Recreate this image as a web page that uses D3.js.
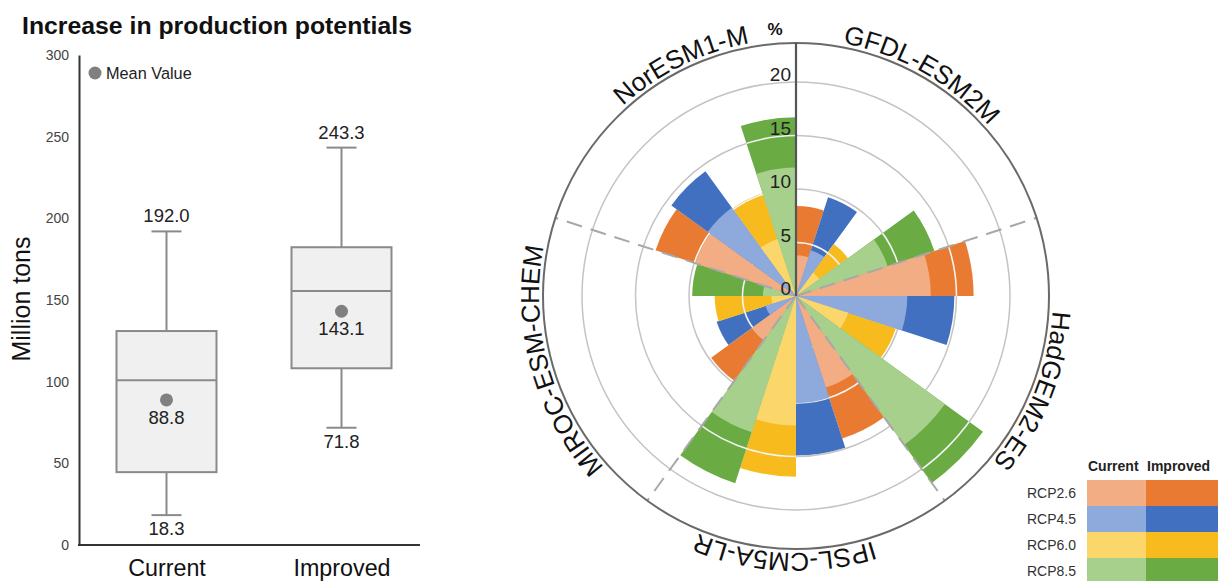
<!DOCTYPE html>
<html>
<head>
<meta charset="utf-8">
<script src="https://cdn.jsdelivr.net/npm/d3@7"></script>
<style>
  body { margin: 0; background: #fff; }
  svg { display: block; font-family: "Liberation Sans", Arial, Helvetica, sans-serif; }
</style>
</head>
<body>
<svg id="chart" width="1218" height="581"></svg>
<script>
// ---------- Box plot: increase in production potentials (million tons) ----------
const boxCategories = ["Current", "Improved"];
const boxMin    = [18.3, 71.8];
const boxQ1     = [44.6, 108.2];
const boxMedian = [100.8, 155.5];
const boxQ3     = [131.0, 182.3];
const boxMax    = [192.0, 243.3];
const boxMean   = [88.8, 143.1];
const boxTicks  = [0, 50, 100, 150, 200, 250, 300];

// ---------- Polar bars: % increase by climate model and scenario ----------
const models    = ["GFDL-ESM2M", "HadGEM2-ES", "IPSL-CM5A-LR", "MIROC-ESM-CHEM", "NorESM1-M"];
const scenarios = ["RCP2.6", "RCP4.5", "RCP6.0", "RCP8.5"];
// one row per model, one column per scenario
const currentPct = [
  [3.8, 4.5, 2.7, 9.0],
  [12.6, 10.4, 5.1, 17.2],
  [9.0, 10.0, 12.1, 13.4],
  [5.1, 3.0, 2.3, 3.1],
  [9.9, 10.2, 5.6, 12.0]
];
const improvedPct = [
  [8.4, 9.7, 6.0, 13.6],
  [16.6, 14.8, 9.8, 21.6],
  [14.0, 14.9, 16.9, 18.4],
  [9.8, 7.8, 7.6, 9.7],
  [13.8, 14.4, 10.1, 16.7]
];
const radialTicks = [0, 5, 10, 15, 20];
const legendColumns = ["Current", "Improved"];

// palette per scenario (light = current, dark = improved)
const currentColors  = ["#F2AD84", "#8EA9DB", "#FBD66A", "#A7D08C"];
const improvedColors = ["#E97A32", "#4270C0", "#F7BB1E", "#6AAB44"];

const svg = d3.select("#chart");
const FONT = '"Liberation Sans", Arial, Helvetica, sans-serif';

// ================= Box plot =================
const y = d3.scaleLinear().domain([0, 300]).range([545, 55]);
const x = d3.scalePoint().domain(boxCategories).range([79, 429]).padding(0.5);
const boxW = 100, capW = 30;
const gray = "#8a8a8a";

const bp = svg.append("g");

bp.append("text")
  .attr("x", 22).attr("y", 34)
  .attr("font-size", 24.8).attr("font-weight", "bold").attr("fill", "#111")
  .text("Increase in production potentials");

const yAxis = d3.axisLeft(y).tickValues(boxTicks).tickSize(0).tickPadding(10).tickFormat(d3.format("d"));
bp.append("g").attr("transform", "translate(79,0)").call(yAxis)
  .call(g => g.select(".domain").attr("stroke", "#333").attr("stroke-width", 2))
  .call(g => g.selectAll("text").attr("font-size", 14).attr("fill", "#444").attr("font-family", FONT));

// horizontal base line
bp.append("line")
  .attr("x1", 78).attr("x2", 420).attr("y1", y(0)).attr("y2", y(0))
  .attr("stroke", "#333").attr("stroke-width", 2);

const xAxis = d3.axisBottom(x).tickSize(0).tickPadding(14);
bp.append("g").attr("transform", `translate(0,${y(0)})`).call(xAxis)
  .call(g => g.select(".domain").remove())
  .call(g => g.selectAll("text").attr("font-size", 23.3).attr("fill", "#111").attr("font-family", FONT));

bp.append("text")
  .attr("transform", "translate(30,299) rotate(-90)")
  .attr("text-anchor", "middle").attr("font-size", 25).attr("fill", "#111")
  .text("Million tons");

const boxes = bp.selectAll("g.box").data(boxCategories).join("g").attr("class", "box");

boxes.append("line") // upper whisker
  .attr("x1", d => x(d)).attr("x2", d => x(d))
  .attr("y1", (d, i) => y(boxMax[i])).attr("y2", (d, i) => y(boxQ3[i]))
  .attr("stroke", gray).attr("stroke-width", 2);
boxes.append("line") // lower whisker
  .attr("x1", d => x(d)).attr("x2", d => x(d))
  .attr("y1", (d, i) => y(boxQ1[i])).attr("y2", (d, i) => y(boxMin[i]))
  .attr("stroke", gray).attr("stroke-width", 2);
boxes.append("line") // max cap
  .attr("x1", d => x(d) - capW / 2).attr("x2", d => x(d) + capW / 2)
  .attr("y1", (d, i) => y(boxMax[i])).attr("y2", (d, i) => y(boxMax[i]))
  .attr("stroke", gray).attr("stroke-width", 2);
boxes.append("line") // min cap
  .attr("x1", d => x(d) - capW / 2).attr("x2", d => x(d) + capW / 2)
  .attr("y1", (d, i) => y(boxMin[i])).attr("y2", (d, i) => y(boxMin[i]))
  .attr("stroke", gray).attr("stroke-width", 2);
boxes.append("rect")
  .attr("x", d => x(d) - boxW / 2).attr("width", boxW)
  .attr("y", (d, i) => y(boxQ3[i])).attr("height", (d, i) => y(boxQ1[i]) - y(boxQ3[i]))
  .attr("fill", "#f0f0f0").attr("stroke", gray).attr("stroke-width", 2);
boxes.append("line") // median
  .attr("x1", d => x(d) - boxW / 2).attr("x2", d => x(d) + boxW / 2)
  .attr("y1", (d, i) => y(boxMedian[i])).attr("y2", (d, i) => y(boxMedian[i]))
  .attr("stroke", gray).attr("stroke-width", 2);
boxes.append("circle")
  .attr("cx", d => x(d)).attr("cy", (d, i) => y(boxMean[i])).attr("r", 6.5)
  .attr("fill", "#808080");

const valueText = (sel, vals, dy) => sel.append("text")
  .attr("x", d => x(d)).attr("y", (d, i) => y(vals[i]) + dy)
  .attr("text-anchor", "middle").attr("font-size", 18.5).attr("fill", "#222")
  .text((d, i) => vals[i].toFixed(1));
valueText(boxes, boxMax, -9);
valueText(boxes, boxMin, 20);
valueText(boxes, boxMean, 24);

// mean legend
bp.append("circle").attr("cx", 95).attr("cy", 73).attr("r", 6.5).attr("fill", "#808080");
bp.append("text").attr("x", 106).attr("y", 78.5)
  .attr("font-size", 16.3).attr("fill", "#222").text("Mean Value");

// ================= Polar bars =================
const cx = 796, cy = 296;
const r = d3.scaleLinear().domain([0, 20]).range([0, 214]);
const outerR = 253, labelR = 257;
const sectorAngle = 2 * Math.PI / models.length;
const wedgeAngle = sectorAngle / scenarios.length;

const cells = [];
models.forEach((m, i) => scenarios.forEach((s, j) => cells.push({
  model: m, scen: s, j,
  cur: currentPct[i][j], imp: improvedPct[i][j],
  a0: i * sectorAngle + j * wedgeAngle,
  a1: i * sectorAngle + (j + 1) * wedgeAngle
})));

const arc = d3.arc().innerRadius(0);
const polar = svg.append("g").attr("transform", `translate(${cx},${cy})`);
const gridTicks = radialTicks.filter(t => t > 0);

// grid rings underneath
polar.append("g").selectAll("circle").data(gridTicks).join("circle")
  .attr("r", d => r(d)).attr("fill", "none")
  .attr("stroke", "#c4c4c4").attr("stroke-width", 1.5);

// improved (outer, dark) wedges
const imprPath = d => arc({ outerRadius: r(d.imp), startAngle: d.a0, endAngle: d.a1 });
polar.append("g").selectAll("path").data(cells).join("path")
  .attr("d", imprPath).attr("fill", d => improvedColors[d.j]);

// rings showing through the dark wedges
const defs = svg.append("defs");
const clip = defs.append("clipPath").attr("id", "darkWedges");
clip.selectAll("path").data(cells).join("path").attr("d", imprPath);
polar.append("g").attr("clip-path", "url(#darkWedges)")
  .selectAll("circle").data(gridTicks).join("circle")
  .attr("r", d => r(d)).attr("fill", "none")
  .attr("stroke", "#f3f3f3").attr("stroke-width", 1.6);

// current (inner, light) wedges
polar.append("g").selectAll("path").data(cells).join("path")
  .attr("d", d => arc({ outerRadius: r(d.cur), startAngle: d.a0, endAngle: d.a1 }))
  .attr("fill", d => currentColors[d.j]);

// dashed model separators
const seps = d3.range(1, models.length).map(i => i * sectorAngle);
polar.append("g").selectAll("line").data(seps).join("line")
  .attr("x1", 0).attr("y1", 0)
  .attr("x2", a => outerR * Math.sin(a)).attr("y2", a => -outerR * Math.cos(a))
  .attr("stroke", "#a8a8a8").attr("stroke-width", 2).attr("stroke-dasharray", "16,9");

// outer ring
polar.append("circle").attr("r", outerR).attr("fill", "none")
  .attr("stroke", "#6a6a6a").attr("stroke-width", 2);

// radial axis
polar.append("line").attr("x1", 0).attr("y1", 0).attr("x2", 0).attr("y2", -outerR)
  .attr("stroke", "#555").attr("stroke-width", 2.2);
polar.append("g").selectAll("text").data(radialTicks).join("text")
  .attr("x", -5).attr("y", d => -r(d) - 1)
  .attr("text-anchor", "end").attr("font-size", 19).attr("fill", "#222")
  .text(d => d);
polar.append("text").attr("x", -21).attr("y", -261)
  .attr("text-anchor", "middle").attr("font-size", 17).attr("font-weight", "bold").attr("fill", "#111")
  .text("%");

// model names along the ring (clockwise path starting at 12 o'clock)
const ringPath = `M0,${-labelR} A${labelR},${labelR} 0 1 1 0,${labelR} A${labelR},${labelR} 0 1 1 0,${-labelR}`;
defs.append("path").attr("id", "labelRing")
  .attr("d", ringPath).attr("transform", `translate(${cx},${cy})`);
const labelNudgeDeg = [-6.5, 3.7, 2.5, 2.6, 9.5];
svg.append("g").selectAll("text").data(models).join("text")
  .attr("font-size", 26).attr("fill", "#111")
  .append("textPath")
  .attr("href", "#labelRing")
  .attr("text-anchor", "middle")
  .attr("startOffset", (d, i) => {
    const deg = (i + 0.5) * 360 / models.length + labelNudgeDeg[i];
    return (deg / 360 * 2 * Math.PI * labelR).toFixed(1);
  })
  .text(d => d);

// ================= Legend =================
const lg = svg.append("g");
const rowY = d3.scaleBand().domain(scenarios).range([480, 584]);
const colWidths = [59, 72];
const colStarts = [1087, 1146];

lg.selectAll("text.hdr").data(legendColumns).join("text").attr("class", "hdr")
  .attr("x", (d, k) => colStarts[k] + 1).attr("y", 471)
  .attr("font-size", 14).attr("font-weight", "bold").attr("fill", "#222")
  .text(d => d);

scenarios.forEach((s, j) => {
  lg.append("rect").attr("x", colStarts[0]).attr("y", rowY(s))
    .attr("width", colWidths[0]).attr("height", rowY.bandwidth()).attr("fill", currentColors[j]);
  lg.append("rect").attr("x", colStarts[1]).attr("y", rowY(s))
    .attr("width", colWidths[1]).attr("height", rowY.bandwidth()).attr("fill", improvedColors[j]);
  lg.append("text").attr("x", 1076).attr("y", rowY(s) + rowY.bandwidth() / 2 + 5)
    .attr("text-anchor", "end").attr("font-size", 14).attr("fill", "#333").text(s);
});
</script>
</body>
</html>
